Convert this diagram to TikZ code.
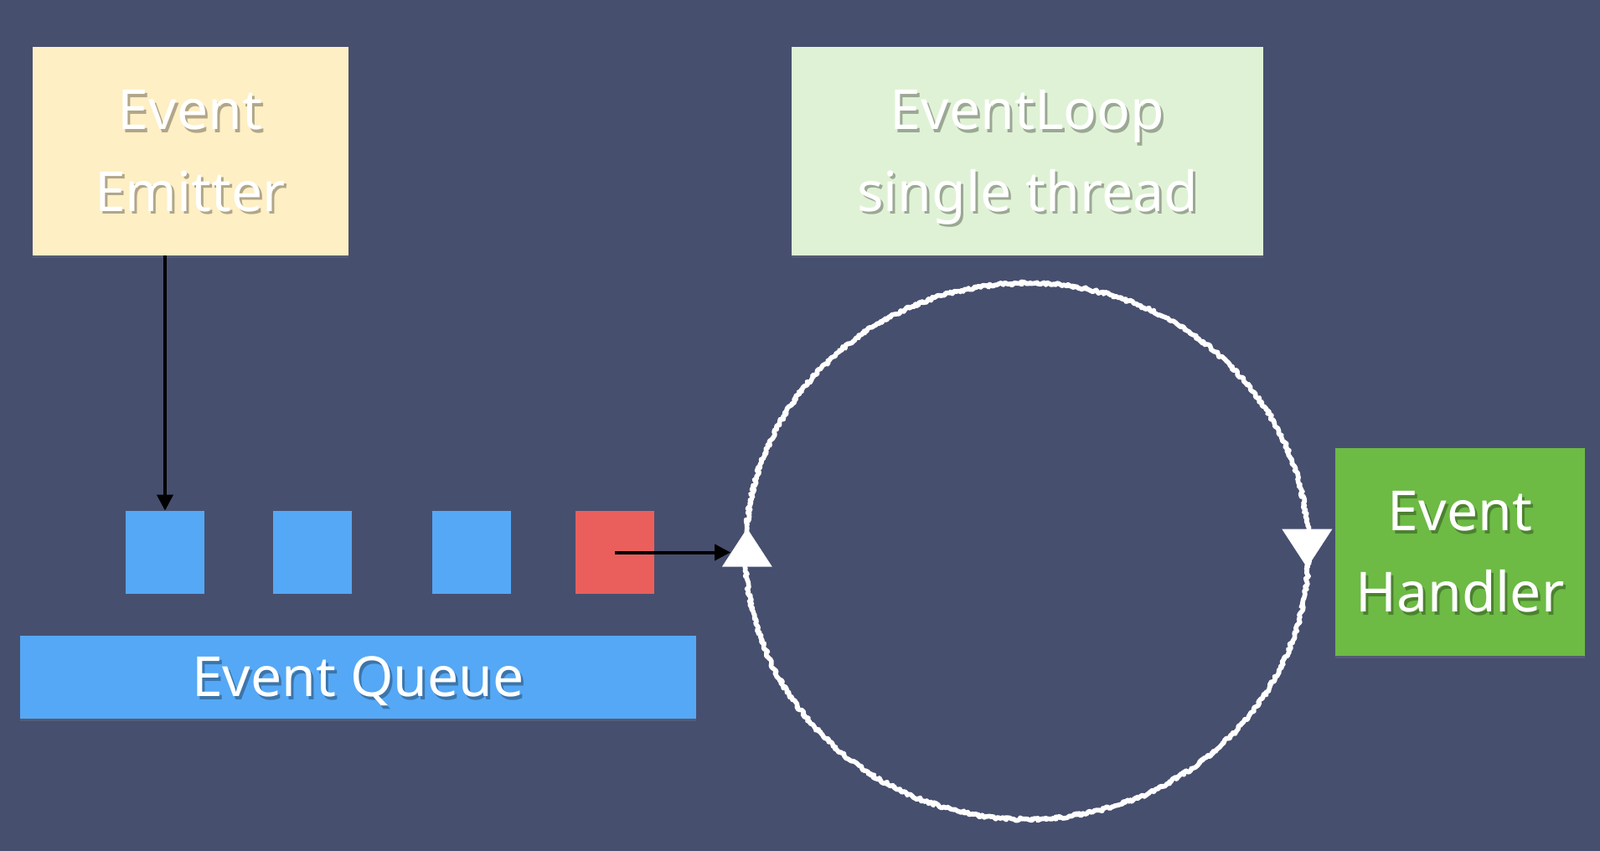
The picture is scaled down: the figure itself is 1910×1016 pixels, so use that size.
\documentclass[tikz,border=0pt]{standalone}
\usepackage{fontspec}
\setmainfont{Noto Sans}
\usetikzlibrary{positioning, arrows.meta, shapes.geometric, shadows}
\usetikzlibrary{decorations.pathmorphing, decorations.markings}

\definecolor{bgcol}{RGB}{71,79,111}
\definecolor{emitcol}{RGB}{254,239,196}
\definecolor{loopcol}{RGB}{223,242,213}
\definecolor{handlecol}{RGB}{109,186,69}
\definecolor{queuecol}{RGB}{85,168,245}
\definecolor{hotcol}{RGB}{234,95,91}

% white text with a soft dark shadow
\newcommand\shtxt[1]{\leavevmode\rule[-12.5pt]{0pt}{48pt}\rlap{\kern1.5pt\raisebox{-1.8pt}{\pgfsetfillopacity{0.3}\color{black}#1\pgfsetfillopacity{1}}}#1}

\begin{document}
\begin{tikzpicture}[
      x=0.5pt, y=-0.5pt,
      box/.style={inner sep=0pt, text=white, align=center, font=\fontsize{33}{48.5}\selectfont,
        drop shadow={opacity=0.25, shadow xshift=0pt, shadow yshift=-1.5pt}},
      cell/.style={minimum width=47pt, minimum height=49.5pt, inner sep=0pt},
      arrow/.style={-{Triangle[length=9.5pt, width=9.5pt]}, line width=2pt},
      chalk/.style={ellipse, draw=white, line width=2.8pt, line join=round, line cap=round,
        inner sep=0pt, outer sep=0pt,
        decorate, decoration={random steps, segment length=1pt, amplitude=0.9pt},
        postaction={decorate, decoration={markings,
          mark=at position 0.488 with {\pgftransformresetnontranslations
            \fill[white] (0pt,0pt) -- (-15pt,-23pt) -- (15pt,-23pt) -- cycle;},
          mark=at position 0.988 with {\pgftransformresetnontranslations
            \fill[white] (0pt,0pt) -- (-15pt,23pt) -- (15pt,23pt) -- cycle;}}}}
    ]
      \fill[bgcol] (0,0) rectangle (1910,1016);

      \node[box, fill=emitcol, minimum width=188.5pt, minimum height=124.5pt] (emitter) at (227,180.5) {\shtxt{Event}\\\shtxt{Emitter}};
      \node[box, fill=loopcol, minimum width=281.5pt, minimum height=124.5pt] (looplabel) at (1226.5,180.5) {\shtxt{EventLoop}\\\shtxt{single thread}};
      \node[box, fill=handlecol, minimum width=149pt, minimum height=124pt] (handler) at (1743,659) {\shtxt{Event}\\\shtxt{Handler}};
      \node[box, fill=queuecol, minimum width=403.5pt, minimum height=49.5pt] (queue) at (427.5,808.5) {\shtxt{Event Queue}};

      \node[cell, fill=queuecol] (sq1) at (197,659.5) {};
      \node[cell, fill=queuecol] (sq2) at (373,659.5) {};
      \node[cell, fill=queuecol] (sq3) at (563,659.5) {};
      \node[cell, fill=hotcol] (sq4) at (734,659.5) {};

      \node[chalk, minimum width=336pt, minimum height=320pt] (loop) at (1226,658) {};

      \draw[arrow] (emitter.south -| sq1.north) -- (sq1.north);
      \draw[arrow, shorten >=9pt] (sq4.center) -- (sq4.center -| loop.west);
    \end{tikzpicture}
\end{document}
